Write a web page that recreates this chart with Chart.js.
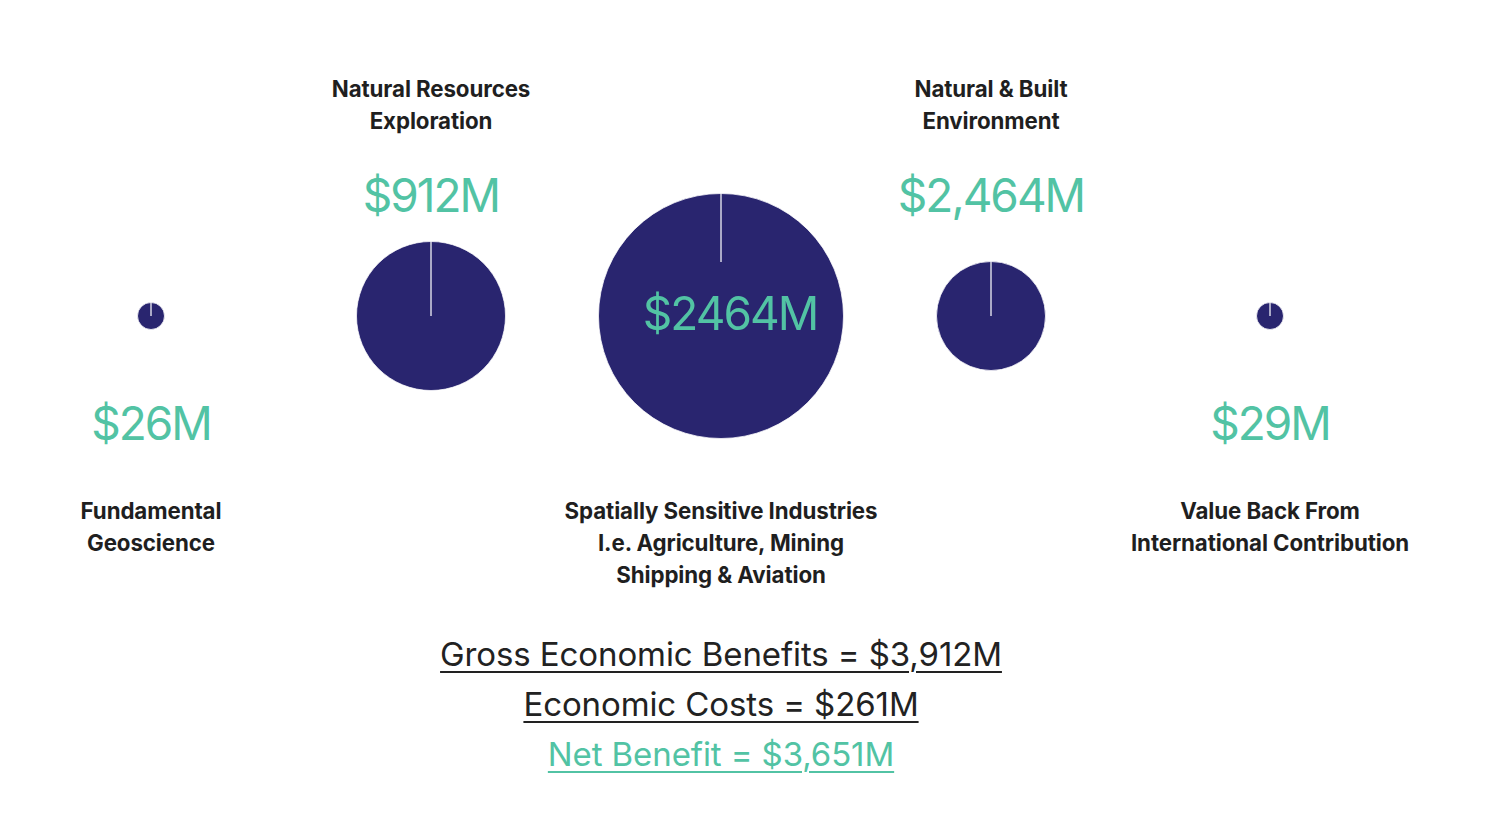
<!DOCTYPE html>
<html>
<head>
<meta charset="utf-8">
<script src="https://cdn.jsdelivr.net/npm/chart.js@4.4.1/dist/chart.umd.min.js"></script>
<style>
  html, body { margin: 0; padding: 0; background: #fff; }
  body { width: 1500px; height: 824px; position: relative; overflow: hidden; font-family: "Inter", "Noto Sans", sans-serif; }
  .pie { position: absolute; }
  .title { position: absolute; transform: translateX(-50%); text-align: center; white-space: nowrap;
           font-size: 22.3px; font-weight: 700; line-height: 32px; color: #1f1f1f; letter-spacing: -0.1px; }
  .value { position: absolute; transform: translateX(-50%); white-space: nowrap;
           font-size: 46px; line-height: 46px; color: #52c3a4; letter-spacing: -2px; }
  .cover { position: absolute; background: #29256f; }
  .summary { position: absolute; left: 0; width: 1442px; top: 629px; text-align: center;
             font-size: 33px; line-height: 50px; color: #222; letter-spacing: -0.1px; }
  .summary div span { text-decoration: underline; text-decoration-thickness: 2px; text-underline-offset: 5px; }
  .summary .net { color: #52c3a4; }
</style>
</head>
<body>
<script>
const categories = [
  ["Fundamental", "Geoscience"],
  ["Natural Resources", "Exploration"],
  ["Spatially Sensitive Industries", "I.e. Agriculture, Mining", "Shipping & Aviation"],
  ["Natural & Built", "Environment"],
  ["Value Back From", "International Contribution"]
];
const values = [26, 912, 2464, 2464, 29];
const valueLabels = ["$26M", "$912M", "$2464M", "$2,464M", "$29M"];
const summaryLines = [
  "Gross Economic Benefits = $3,912M",
  "Economic Costs = $261M",
  "Net Benefit = $3,651M"
];

// layout: circle centre / radius, where the title and value sit
const layout = [
  { cx: 151, cy: 316, r: 13, titleY: 495, valueX: 151, valueY: 423 },
  { cx: 431, cy: 316, r: 74, titleY: 73, valueX: 431, valueY: 195 },
  { cx: 721, cy: 316, r: 122, titleY: 495, valueX: 730, valueY: 313, inside: true },
  { cx: 991, cy: 316, r: 54, titleY: 73, valueX: 991, valueY: 195 },
  { cx: 1270, cy: 316, r: 13, titleY: 495, valueX: 1270, valueY: 423 }
];

const navy = "#29256f";

values.forEach((v, i) => {
  const L = layout[i];
  const size = L.r * 2 + 2;
  const canvas = document.createElement("canvas");
  canvas.className = "pie";
  canvas.width = size;
  canvas.height = size;
  canvas.style.width = size + "px";
  canvas.style.height = size + "px";
  canvas.style.left = (L.cx - size / 2) + "px";
  canvas.style.top = (L.cy - size / 2) + "px";
  document.body.appendChild(canvas);

  new Chart(canvas.getContext("2d"), {
    type: "pie",
    data: {
      labels: [categories[i].join(" ")],
      datasets: [{
        data: [v],
        backgroundColor: navy,
        borderColor: "rgba(255,255,255,0.75)",
        borderWidth: 1,
        hoverOffset: 0
      }]
    },
    options: {
      responsive: false,
      animation: false,
      devicePixelRatio: 1,
      layout: { padding: 0 },
      plugins: { legend: { display: false }, tooltip: { enabled: false } }
    }
  });

  if (L.inside) {
    // the label's box hides the lower part of the seam line
    const c = document.createElement("div");
    c.className = "cover";
    c.style.left = (L.cx - 4) + "px";
    c.style.top = "262px";
    c.style.width = "8px";
    c.style.height = (L.cy - 262 + 4) + "px";
    document.body.appendChild(c);
  }

  const t = document.createElement("div");
  t.className = "title";
  t.style.left = L.cx + "px";
  t.style.top = L.titleY + "px";
  t.innerHTML = categories[i].map(s => s.replace(/&/g, "&amp;")).join("<br>");
  document.body.appendChild(t);

  const val = document.createElement("div");
  val.className = "value";
  val.style.left = L.valueX + "px";
  val.style.top = (L.valueY - 23) + "px";
  val.textContent = valueLabels[i];
  document.body.appendChild(val);
});

const summary = document.createElement("div");
summary.className = "summary";
summaryLines.forEach((s, i) => {
  const d = document.createElement("div");
  if (i === summaryLines.length - 1) d.className = "net";
  const sp = document.createElement("span");
  sp.textContent = s;
  d.appendChild(sp);
  summary.appendChild(d);
});
document.body.appendChild(summary);
</script>
</body>
</html>
